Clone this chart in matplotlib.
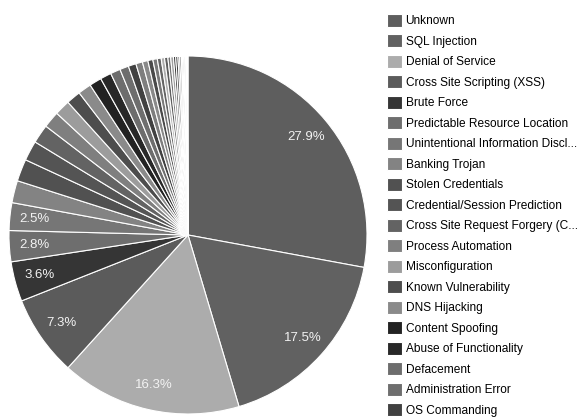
import matplotlib
matplotlib.use('Agg')
import matplotlib.pyplot as plt

# slice names shown in the legend (the legend is cut off after 20 entries)
categories = ['Unknown', 'SQL Injection', 'Denial of Service', 'Cross Site Scripting (XSS)',
              'Brute Force', 'Predictable Resource Location', 'Unintentional Information Discl...',
              'Banking Trojan', 'Stolen Credentials', 'Credential/Session Prediction',
              'Cross Site Request Forgery (C...', 'Process Automation', 'Misconfiguration',
              'Known Vulnerability', 'DNS Hijacking', 'Content Spoofing', 'Abuse of Functionality',
              'Defacement', 'Administration Error', 'OS Commanding']
values = [27.9, 17.5, 16.3, 7.3, 3.6, 2.8, 2.5, 2.0, 2.0, 1.8,
          1.7, 1.5, 1.4, 1.3, 1.2, 1.1, 1.0, 0.9, 0.8, 0.7]
# the thin slices past the visible legend
minor_values = [0.6, 0.5, 0.45, 0.4, 0.35, 0.3, 0.3, 0.25, 0.25, 0.2,
                0.2, 0.15, 0.15, 0.1, 0.1, 0.1, 0.08, 0.08, 0.07, 0.07]

# default google chart palette, converted to grey
palette = ['#3366cc', '#dc3912', '#ff9900', '#109618', '#990099', '#0099c6', '#dd4477',
           '#66aa00', '#b82e2e', '#316395', '#994499', '#22aa99', '#aaaa11', '#6633cc',
           '#e67300', '#8b0707', '#651067', '#329262', '#5574a6', '#3b3eac', '#b77322',
           '#16d620', '#b91383', '#f4359e', '#9c5935', '#a9c413', '#2a778d', '#668d1c',
           '#bea413', '#0c5922', '#743411']

def to_grey(hexcol):
    r, g, b = [int(hexcol[i:i + 2], 16) for i in (1, 3, 5)]
    y = 0.299 * r + 0.587 * g + 0.114 * b
    y = (y - 128) * 1.15 + 128   # a bit more contrast like the scan
    y = max(0, min(255, int(round(y))))
    return '#%02x%02x%02x' % (y, y, y)

all_values = values + minor_values
colors = [to_grey(palette[i % len(palette)]) for i in range(len(all_values))]

plt.rcParams['font.family'] = ['Liberation Sans', 'DejaVu Sans']

fig = plt.figure(figsize=(5.85, 4.19), dpi=100)
ax = fig.add_axes([9 / 585, 5 / 419, 358 / 585, 358 / 419])

def fmt(p):
    return ('%.1f%%' % p) if p >= 2.4 else ''

wedges, texts, autotexts = ax.pie(all_values, colors=colors, startangle=90, counterclock=False,
                                  autopct=fmt, pctdistance=0.86,
                                  wedgeprops=dict(edgecolor='white', linewidth=0.8),
                                  textprops=dict(color='#f2f2f2', fontsize=9.5))
ax.set_xlim(-1.0, 1.0)
ax.set_ylim(-1.0, 1.0)

fig.legend(wedges[:len(categories)], categories, loc='upper left',
           bbox_to_anchor=(387 / 585, 1 - 14 / 419), frameon=False, fontsize=8.6,
           handlelength=1.25, handleheight=1.25, handletextpad=0.3,
           labelspacing=0.6, borderaxespad=0, borderpad=0)

fig.savefig('out.png', dpi=100)
